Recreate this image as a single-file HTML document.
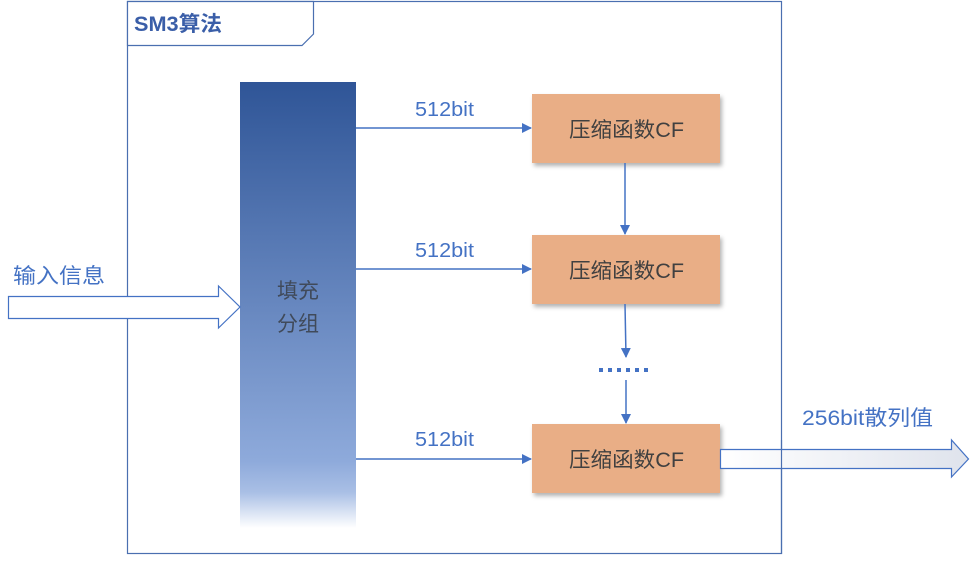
<!DOCTYPE html>
<html><head><meta charset="utf-8"><style>
body{margin:0;background:#fff;}
svg text{font-family:"Liberation Sans","Noto Sans CJK SC",sans-serif;}
</style></head><body>
<svg width="972" height="556" viewBox="0 0 972 556" xmlns="http://www.w3.org/2000/svg">
<defs>
<linearGradient id="bar" x1="0" y1="0" x2="0" y2="1">
<stop offset="0" stop-color="#2f5597"/>
<stop offset="0.85" stop-color="#8eaadb"/>
<stop offset="0.92" stop-color="#a9bfe5"/>
<stop offset="1" stop-color="#ffffff"/>
</linearGradient>
<linearGradient id="out" x1="0" y1="0" x2="1" y2="0">
<stop offset="0" stop-color="#ffffff"/>
<stop offset="1" stop-color="#dfe3ec"/>
</linearGradient>
<filter id="sh" x="-10%" y="-10%" width="130%" height="140%">
<feDropShadow dx="2" dy="3" stdDeviation="2" flood-color="#000" flood-opacity="0.3"/>
</filter>
<marker id="ah" markerWidth="10" markerHeight="10" refX="9" refY="5" orient="auto" markerUnits="userSpaceOnUse">
<path d="M0,0 L10,5 L0,10 z" fill="#4472c4"/>
</marker>
</defs>
<rect x="127.5" y="1.5" width="654" height="552" fill="#fff" stroke="#4a6fb0" stroke-width="1.2"/>
<path d="M127.5,1.5 H313.5 V34 L302,45.5 H127.5 Z" fill="#fff" stroke="#4a6fb0" stroke-width="1.2"/>
<text x="134" y="31" font-size="21" font-weight="bold" fill="#3a5ea8" textLength="88" lengthAdjust="spacingAndGlyphs">SM3算法</text>
<rect x="240" y="82" width="116" height="446" fill="url(#bar)"/>
<text x="298" y="298" font-size="21" fill="#404a5a" text-anchor="middle">填充</text>
<text x="298" y="331" font-size="21" fill="#404a5a" text-anchor="middle">分组</text>
<path d="M8.5,296.5 H218.5 V286 L240,307 L218.5,328 V318.5 H8.5 Z" fill="#fff" stroke="#4472c4" stroke-width="1.2"/>
<text x="13" y="283" font-size="21" fill="#4472c4" textLength="92" lengthAdjust="spacingAndGlyphs">输入信息</text>
<g fill="#e9ae86" filter="url(#sh)">
<rect x="532" y="94" width="188" height="69"/>
<rect x="532" y="235" width="188" height="69"/>
<rect x="532" y="424" width="188" height="69"/>
</g>
<g font-size="21" fill="#404040">
<text x="569" y="137" textLength="115" lengthAdjust="spacingAndGlyphs">压缩函数CF</text>
<text x="569" y="278" textLength="115" lengthAdjust="spacingAndGlyphs">压缩函数CF</text>
<text x="569" y="467" textLength="115" lengthAdjust="spacingAndGlyphs">压缩函数CF</text>
</g>
<g stroke="#4472c4" stroke-width="1.5" marker-end="url(#ah)">
<line x1="356" y1="128" x2="531" y2="128"/>
<line x1="356" y1="269" x2="531" y2="269"/>
<line x1="356" y1="459" x2="531" y2="459"/>
<line x1="625" y1="163" x2="625" y2="234"/>
<line x1="625" y1="304" x2="626" y2="357"/>
<line x1="626" y1="380" x2="626" y2="423"/>
</g>
<line x1="599" y1="370" x2="653" y2="370" stroke="#4472c4" stroke-width="4" stroke-dasharray="4,5"/>
<g font-size="20" fill="#4472c4">
<text x="415" y="116" textLength="59" lengthAdjust="spacingAndGlyphs">512bit</text>
<text x="415" y="257" textLength="59" lengthAdjust="spacingAndGlyphs">512bit</text>
<text x="415" y="446" textLength="59" lengthAdjust="spacingAndGlyphs">512bit</text>
<text x="802" y="425" font-size="21" textLength="131" lengthAdjust="spacingAndGlyphs">256bit散列值</text>
</g>
<path d="M720.5,449.5 H951.5 V440 L968.5,459 L951.5,477 V468.5 H720.5 Z" fill="url(#out)" stroke="#4472c4" stroke-width="1.2"/>
<line x1="781.5" y1="440" x2="781.5" y2="554" stroke="#4a6fb0" stroke-width="1.2"/>
</svg>
</body></html>
